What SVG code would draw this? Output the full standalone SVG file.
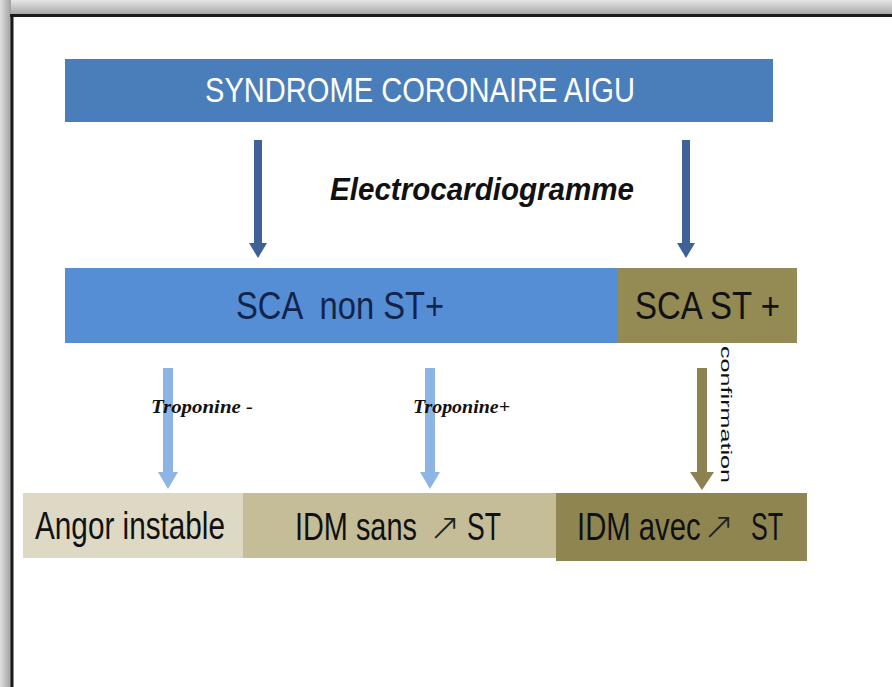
<svg xmlns="http://www.w3.org/2000/svg" width="892" height="687" viewBox="0 0 892 687">
<defs>
<linearGradient id="gTop" x1="0" y1="0" x2="0" y2="1">
<stop offset="0" stop-color="#e6e6e6"/><stop offset="1" stop-color="#a8a8a8"/>
</linearGradient>
<linearGradient id="gLeft" x1="0" y1="0" x2="1" y2="0">
<stop offset="0" stop-color="#e0e0e0"/><stop offset="1" stop-color="#a0a0a0"/>
</linearGradient>
<style>
.t{font-family:"Liberation Sans",Arial,sans-serif;}
.w{fill:#ffffff;}
.k{fill:#111111;}
.n{fill:#13244a;}
.ar{font-family:"DejaVu Sans",sans-serif;font-weight:200;font-size:38px;fill:#222;}
.tp{font-family:"Liberation Serif","Times New Roman",serif;font-style:italic;font-weight:bold;font-size:19px;fill:#111;}
</style>
</defs>
<rect x="0" y="0" width="892" height="687" fill="#ffffff"/>
<rect x="0" y="0" width="892" height="14" fill="url(#gTop)"/>
<rect x="0" y="0" width="11" height="687" fill="url(#gLeft)"/>
<line x1="10" y1="15.5" x2="892" y2="15.5" stroke="#1a1a1a" stroke-width="3"/>
<line x1="12" y1="14" x2="12" y2="687" stroke="#1a1a1a" stroke-width="3"/>

<g id="connectors">
<rect x="254" y="140" width="8" height="104" fill="#3e6298"/>
<polygon points="249,243 267,243 258,258" fill="#3e6298"/>
<rect x="682" y="140" width="8" height="104" fill="#3e6298"/>
<polygon points="677,243 695,243 686,258" fill="#3e6298"/>
<rect x="163" y="368" width="10" height="106" fill="#8eb4e3"/>
<polygon points="158,472 178,472 168,489" fill="#8eb4e3"/>
<rect x="425" y="368" width="10" height="106" fill="#8eb4e3"/>
<polygon points="420,472 440,472 430,489" fill="#8eb4e3"/>
<rect x="697" y="368" width="10" height="106" fill="#8c8150"/>
<polygon points="690,472 714,472 702,490" fill="#8c8150"/>
<text class="t" x="330" y="200" font-size="32" font-weight="bold" font-style="italic" fill="#111" textLength="304" lengthAdjust="spacingAndGlyphs">Electrocardiogramme</text>
<text class="tp" x="151" y="413" textLength="102" lengthAdjust="spacingAndGlyphs">Troponine -</text>
<text class="tp" x="413" y="413" textLength="97" lengthAdjust="spacingAndGlyphs">Troponine+</text>
<text class="t" transform="translate(721,346) rotate(90)" font-size="15" fill="#111" textLength="137" lengthAdjust="spacingAndGlyphs">confirmation</text>
</g>

<g id="sca">
<rect x="65" y="59" width="708" height="63" fill="#4a7ebb"/>
<text class="t w" x="205" y="102" font-size="35" textLength="430" lengthAdjust="spacingAndGlyphs">SYNDROME CORONAIRE AIGU</text>
</g>

<g id="sca-non-st">
<rect x="65" y="268" width="554" height="75" fill="#558ed5"/>
<text class="t n" x="236" y="319" font-size="38" textLength="208" lengthAdjust="spacingAndGlyphs" xml:space="preserve">SCA  non ST+</text>
</g>

<g id="sca-st">
<rect x="618" y="268" width="179" height="75" fill="#948a54"/>
<text class="t k" x="635" y="319" font-size="38" textLength="145" lengthAdjust="spacingAndGlyphs">SCA ST +</text>
</g>

<g id="angor">
<rect x="23" y="493" width="220" height="65" fill="#ddd9c4"/>
<text class="t k" x="35" y="539" font-size="38" textLength="190" lengthAdjust="spacingAndGlyphs">Angor instable</text>
</g>

<g id="idm-sans">
<rect x="243" y="493" width="313" height="65" fill="#c4bd97"/>
<text class="t k" transform="translate(295,540) scale(0.76,1)" font-size="38">IDM sans</text>
<text class="ar" x="429" y="540">↗</text>
<text class="t k" transform="translate(467,540) scale(0.7,1)" font-size="38">ST</text>
</g>

<g id="idm-avec">
<rect x="556" y="493" width="251" height="68" fill="#8f8551"/>
<text class="t k" transform="translate(577,540) scale(0.77,1)" font-size="38">IDM avec</text>
<text class="ar" x="703" y="539">↗</text>
<text class="t k" transform="translate(751,540) scale(0.66,1)" font-size="38">ST</text>
</g>
</svg>
